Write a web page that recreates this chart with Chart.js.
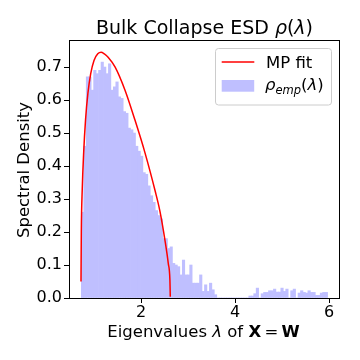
<!DOCTYPE html>
<html>
<head>
<meta charset="utf-8">
<script src="https://cdn.jsdelivr.net/npm/chart.js@4.4.1/dist/chart.umd.min.js"></script>
<style>
  body { margin: 0; background: #fff; }
  canvas { display: block; }
</style>
</head>
<body>
<canvas id="esdChart" width="360" height="360"></canvas>
<script>
// histogram bins (eigenvalue lambda)
const binStart = 0.73;
const binWidth = 0.0524;
const density = [
  0.26, 0.46, 0.67, 0.67, 0.63, 0.69, 0.68, 0.69, 0.715, 0.70,
  0.68, 0.71, 0.63, 0.64, 0.655, 0.61, 0.605, 0.565, 0.56, 0.515,
  0.51, 0.50, 0.46, 0.445, 0.43, 0.38, 0.375, 0.34, 0.31, 0.29,
  0.265, 0.25, 0.24, 0.18, 0.18, 0.15, 0.155, 0.105, 0.10, 0.095,
  0.07, 0.115, 0.07, 0.07, 0.10, 0.045, 0.045, 0.045, 0.07, 0.02,
  0.04, 0.02, 0.045, 0.025, 0.01, 0, 0, 0, 0, 0,
  0, 0, 0, 0, 0, 0, 0, 0, 0.006, 0.006,
  0.013, 0.03, 0, 0.013, 0.017, 0.017, 0.022, 0.022, 0.027, 0.018,
  0.018, 0.03, 0.02, 0.027, 0, 0.022, 0.027, 0, 0.015, 0.022,
  0.017, 0.015, 0.022, 0.017, 0.017, 0.008, 0.008, 0.015, 0.017, 0.017
];

// MP fit curve
const mpLambda  = [0.723, 0.73, 0.75, 0.78, 0.82, 0.87, 0.93, 1.00, 1.08, 1.15, 1.22, 1.30, 1.45, 1.66, 1.87, 2.085, 2.30, 2.40, 2.51, 2.58, 2.615, 2.623];
const mpDensity = [0.05, 0.20, 0.33, 0.44, 0.54, 0.62, 0.68, 0.72, 0.74, 0.745, 0.74, 0.73, 0.70, 0.63, 0.54, 0.44, 0.325, 0.265, 0.175, 0.105, 0.055, 0.004];

const xTicks = [2, 4, 6];
const yTicks = [0.0, 0.1, 0.2, 0.3, 0.4, 0.5, 0.6, 0.7];

const barColor = 'rgb(191,191,255)';
const FONT = '"DejaVu Sans"';

function rich(ctx, parts, x, y, align) {
  let w = 0;
  parts.forEach(p => { ctx.font = p.f; p.w = ctx.measureText(p.t).width; w += p.w; });
  let cx = align === 'center' ? x - w / 2 : x;
  ctx.textAlign = 'left';
  ctx.textBaseline = 'alphabetic';
  parts.forEach(p => { ctx.font = p.f; ctx.fillText(p.t, cx, y + (p.dy || 0)); cx += p.w; });
}

const decor = {
  id: 'decor',
  afterDraw(chart) {
    const ctx = chart.ctx;
    const a = chart.chartArea;
    const N = '16.5px ' + FONT, I = 'italic 16.5px ' + FONT, B = 'bold 16.5px ' + FONT;
    ctx.save();
    ctx.fillStyle = '#000';

    // frame
    ctx.strokeStyle = '#000';
    ctx.lineWidth = 1;
    ctx.strokeRect(Math.round(a.left) + 0.5, Math.round(a.top) + 0.5, Math.round(a.right - a.left) - 1, Math.round(a.bottom - a.top));

    // title
    const TN = '19px ' + FONT, TI = 'italic 19px ' + FONT;
    rich(ctx, [{t: 'Bulk Collapse ESD ', f: TN}, {t: 'ρ', f: TI}, {t: '(', f: TN}, {t: 'λ', f: TI}, {t: ')', f: TN}], (a.left + a.right) / 2, 34, 'center');

    // x label
    rich(ctx, [{t: 'Eigenvalues ', f: N}, {t: 'λ', f: I}, {t: ' of ', f: N}, {t: 'X', f: B}, {t: '\u2009=\u2009', f: N}, {t: 'W', f: B}], 203.5, 337, 'center');

    // y label
    ctx.save();
    ctx.translate(28.5, 170);
    ctx.rotate(-Math.PI / 2);
    ctx.font = N;
    ctx.textAlign = 'center';
    ctx.textBaseline = 'alphabetic';
    ctx.fillText('Spectral Density', 0, 0);
    ctx.restore();

    // legend
    const lx = 215.5, ly = 48.5, lw = 116, lh = 56.5, r = 3;
    ctx.beginPath();
    ctx.moveTo(lx + r, ly);
    ctx.lineTo(lx + lw - r, ly);
    ctx.quadraticCurveTo(lx + lw, ly, lx + lw, ly + r);
    ctx.lineTo(lx + lw, ly + lh - r);
    ctx.quadraticCurveTo(lx + lw, ly + lh, lx + lw - r, ly + lh);
    ctx.lineTo(lx + r, ly + lh);
    ctx.quadraticCurveTo(lx, ly + lh, lx, ly + lh - r);
    ctx.lineTo(lx, ly + r);
    ctx.quadraticCurveTo(lx, ly, lx + r, ly);
    ctx.closePath();
    ctx.fillStyle = 'rgba(255,255,255,0.8)';
    ctx.fill();
    ctx.strokeStyle = '#cccccc';
    ctx.stroke();

    ctx.strokeStyle = 'red';
    ctx.lineWidth = 1.5;
    ctx.beginPath();
    ctx.moveTo(221.7, 62);
    ctx.lineTo(254.3, 62);
    ctx.stroke();
    ctx.fillStyle = barColor;
    ctx.fillRect(221.7, 80, 32.5, 11.7);

    ctx.fillStyle = '#000';
    rich(ctx, [{t: 'MP fit', f: N}], 266, 68, 'left');
    rich(ctx, [{t: 'ρ', f: I}, {t: 'emp', f: 'italic 11.5px ' + FONT, dy: 3.5}, {t: '(', f: N}, {t: 'λ', f: I}, {t: ')', f: N}], 265, 90, 'left');
    ctx.restore();
  }
};

const tickFont = {family: FONT, size: 16};

new Chart(document.getElementById('esdChart'), {
  type: 'bar',
  data: {
    datasets: [
      {
        type: 'line',
        label: 'MP fit',
        data: mpLambda.map((x, i) => ({x: x, y: mpDensity[i]})),
        borderColor: 'red',
        borderWidth: 1.5,
        pointRadius: 0,
        cubicInterpolationMode: 'monotone',
        fill: false,
        order: 0
      },
      {
        type: 'bar',
        label: 'ρemp(λ)',
        data: density.map((y, i) => ({x: binStart + binWidth * (i + 0.5), y: y})),
        backgroundColor: barColor,
        borderWidth: 0,
        barPercentage: 1,
        categoryPercentage: 1,
        order: 1
      }
    ]
  },
  options: {
    responsive: false,
    animation: false,
    layout: {padding: {top: 40, right: 20, bottom: 0, left: 0}},
    plugins: {legend: {display: false}, tooltip: {enabled: false}, title: {display: false}},
    scales: {
      x: {
        type: 'linear',
        min: 0.468,
        max: 6.234,
        offset: false,
        afterBuildTicks: s => { s.ticks = xTicks.map(v => ({value: v})); },
        afterFit: s => { s.height = 62; },
        grid: {offset: false, drawOnChartArea: false, tickLength: 5, color: '#000'},
        border: {display: false},
        ticks: {font: tickFont, color: '#000', padding: 0, maxRotation: 0, callback: v => String(v)}
      },
      y: {
        type: 'linear',
        min: 0,
        max: 0.782,
        afterBuildTicks: s => { s.ticks = yTicks.map(v => ({value: v})); },
        afterFit: s => { s.width = 69; },
        grid: {drawOnChartArea: false, tickLength: 5, color: '#000'},
        border: {display: false},
        ticks: {font: tickFont, color: '#000', padding: 2, callback: v => Number(v).toFixed(1)}
      }
    }
  },
  plugins: [decor]
});
</script>
</body>
</html>
